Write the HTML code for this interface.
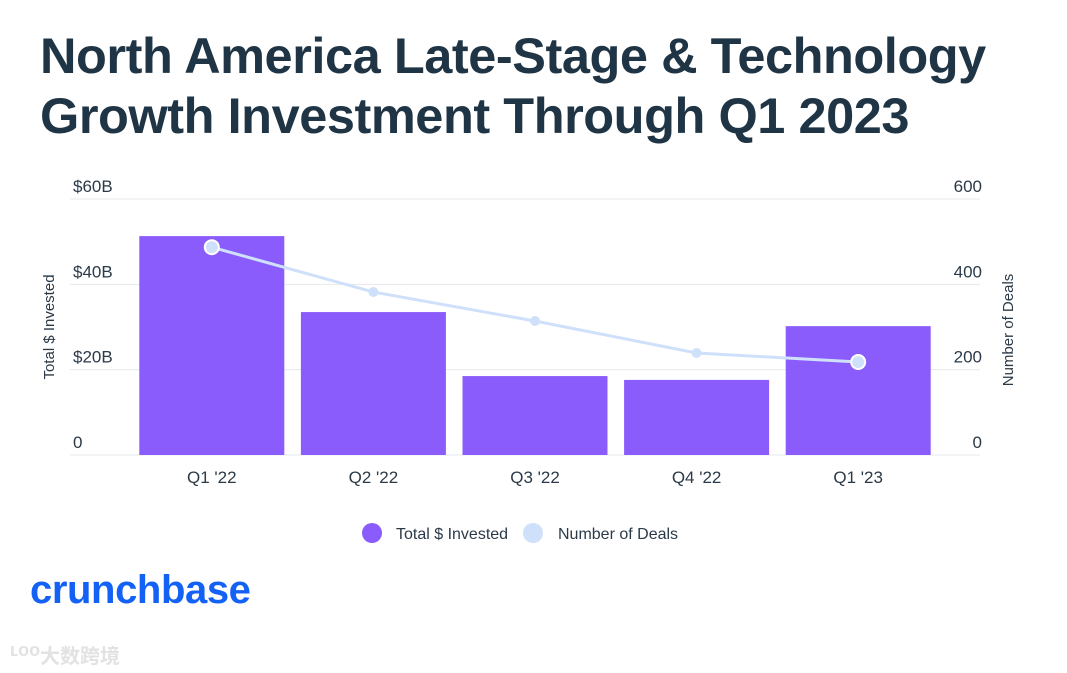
<!DOCTYPE html>
<html><head><meta charset="utf-8"><style>
body{margin:0;width:1067px;height:673px;background:#fff;overflow:hidden;font-family:"Liberation Sans","Noto Sans CJK SC",sans-serif;position:relative}
h1{position:absolute;left:40px;top:26px;margin:0;font-size:50.5px;line-height:60px;color:#1f3444;font-weight:bold;letter-spacing:-0.45px}
.logo{position:absolute;left:30px;top:568px;font-size:40px;font-weight:bold;color:#1462f5;letter-spacing:-0.4px}
.wm{position:absolute;left:40px;top:640px;font-size:20px;color:#e2e2e2;font-weight:bold}
</style></head><body>
<h1>North America Late-Stage &amp; Technology<br>Growth Investment Through Q1 2023</h1>
<svg id="c" width="1067" height="673" style="position:absolute;left:0;top:0"></svg>
<div class="logo">crunchbase</div>
<div class="wm"><span style="position:absolute;left:-30px;font-size:18px">ʟoo</span>大数跨境</div>
<script>
const categories=["Q1 '22","Q2 '22","Q3 '22","Q4 '22","Q1 '23"];
const invested=[51.3,33.5,18.5,17.6,30.2];
const deals=[487,382,314,239,218];
const leftTicks=[0,20,40,60];
const leftLabels=["0","$20B","$40B","$60B"];
const rightTicks=[0,200,400,600];
const NS="http://www.w3.org/2000/svg";
const svg=document.getElementById('c');
const y0=455,y1=199,xL=70,xR=980,bandStart=131,bandW=161.6;
const yL=v=>y0-(v/60)*(y0-y1);
const yR=v=>y0-(v/600)*(y0-y1);
const xC=i=>bandStart+bandW*(i+0.5);
function mk(t,a,txt){const e=document.createElementNS(NS,t);for(const k in a)e.setAttribute(k,a[k]);if(txt!=null)e.textContent=txt;svg.appendChild(e);return e;}
leftTicks.forEach((v,i)=>{
 const g=mk('line',{x1:xL,x2:xR,y1:yL(v),y2:yL(v),stroke:'#e6e8ec','stroke-width':1});
 
 
 const t=mk('text',{x:73,y:yL(v)-7,'font-size':17,fill:'#2b3a48'},leftLabels[i]);
 
 
});
rightTicks.forEach(v=>{
 const t=mk('text',{x:982,y:yR(v)-7,'font-size':17,fill:'#2b3a48','text-anchor':'end'},String(v));
 
 
});
let t=mk('text',{transform:'translate(54,327) rotate(-90)','font-size':15,fill:'#2b3a48','text-anchor':'middle'},'Total $ Invested');


t=mk('text',{transform:'translate(1013,330) rotate(-90)','font-size':15,fill:'#2b3a48','text-anchor':'middle'},'Number of Deals');


invested.forEach((v,i)=>{
 const b=mk('rect',{x:xC(i)-72.5,y:yL(v),width:145,height:y0-yL(v),fill:'#8a5cfb'});
 
 
 const l=mk('text',{x:xC(i),y:483,'font-size':17,fill:'#2b3a48','text-anchor':'middle'},categories[i]);
 
 
});
const ln=mk('polyline',{points:deals.map((v,i)=>xC(i)+','+yR(v)).join(' '),fill:'none',stroke:'#cfe0fb','stroke-width':3});


deals.forEach((v,i)=>{
 const big=(i==0||i==deals.length-1);
 const p=mk('circle',{cx:xC(i),cy:yR(v),r:big?7:5,fill:'#cfe0fb',stroke:big?'#fff':'none','stroke-width':2});
 
 
});
let c=mk('circle',{cx:372,cy:533,r:10,fill:'#8a5cfb'});


t=mk('text',{x:396,y:539,'font-size':16,fill:'#2b3a48'},'Total $ Invested');


c=mk('circle',{cx:533,cy:533,r:10,fill:'#cfe0fb'});


t=mk('text',{x:558,y:539,'font-size':16,fill:'#2b3a48'},'Number of Deals');


</script>
</body></html>
